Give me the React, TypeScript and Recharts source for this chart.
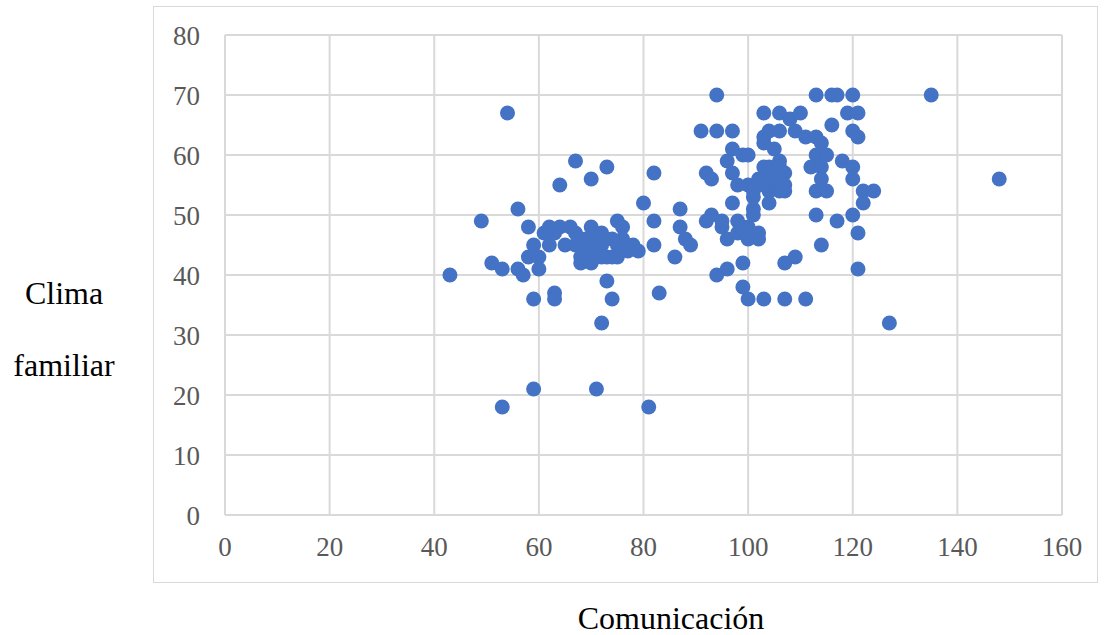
import React from 'react';
import { ScatterChart, Scatter, XAxis, YAxis, CartesianGrid } from 'recharts';

// Comunicación (x) values
const comunicacion = [
  43, 49, 51, 53, 53, 54, 56, 56, 57, 58, 58, 59, 59, 59, 60, 60, 61, 62, 62, 63,
  63, 64, 64, 65, 66, 67, 67, 68, 68, 69, 70, 70, 70, 70, 71, 71, 72, 73, 73, 73,
  74, 75, 75, 75, 76, 76, 78, 79, 80, 81, 82, 82, 82, 83, 86, 87, 87, 88, 89, 91,
  92, 92, 93, 93, 94, 94, 94, 95, 95, 96, 96, 96, 97, 97, 97, 97, 98, 98, 98, 99,
  99, 99, 100, 100, 100, 100, 100, 101, 101, 101, 102, 102, 102, 102, 103, 103, 103, 103, 103, 104,
  104, 104, 104, 105, 105, 105, 106, 106, 106, 106, 107, 107, 107, 107, 107, 108, 109, 109, 110, 111,
  111, 112, 113, 113, 113, 113, 113, 114, 114, 114, 114, 115, 115, 116, 116, 117, 117, 118, 119, 120,
  120, 120, 120, 120, 121, 121, 121, 121, 122, 122, 124, 127, 135, 148,
  72, 72, 74, 77, 63, 67, 69, 68, 70, 74, 72, 103, 104, 105, 104, 101, 106, 103,
];

// Clima familiar (y) values, same order
const clima = [
  40, 49, 42, 41, 18, 67, 51, 41, 40, 43, 48, 36, 21, 45, 41, 43, 47, 45, 48, 37,
  36, 55, 48, 45, 48, 59, 47, 42, 46, 44, 56, 48, 46, 42, 21, 43, 32, 39, 58, 43,
  36, 49, 45, 43, 48, 46, 45, 44, 52, 18, 57, 49, 45, 37, 43, 51, 48, 46, 45, 64,
  57, 49, 56, 50, 70, 64, 40, 48, 49, 59, 41, 46, 64, 61, 57, 52, 55, 49, 47, 42,
  38, 60, 60, 36, 55, 48, 46, 53, 51, 50, 55, 56, 46, 47, 67, 62, 36, 63, 56, 64,
  58, 54, 52, 61, 57, 55, 67, 64, 59, 58, 57, 55, 54, 42, 36, 66, 64, 43, 67, 63,
  36, 58, 70, 63, 60, 54, 50, 62, 58, 56, 45, 60, 54, 70, 65, 70, 49, 59, 67, 70,
  64, 58, 56, 50, 67, 63, 47, 41, 54, 52, 54, 32, 70, 56,
  47, 45, 46, 44, 47, 45, 46, 43, 44, 43, 43, 55, 56, 56, 57, 54, 54, 58,
];

const xTicks = [0, 20, 40, 60, 80, 100, 120, 140, 160];
const yTicks = [0, 10, 20, 30, 40, 50, 60, 70, 80];

const points = comunicacion.map((x, i) => ({ x, y: clima[i] }));

const font = '"Liberation Serif", "Times New Roman", serif';
const tickStyle = { fill: '#595959', fontSize: 27, fontFamily: font };
const labelStyle: React.CSSProperties = {
  position: 'absolute', textAlign: 'center', fontFamily: font, fontSize: 32, color: '#000', lineHeight: '30px',
};

const App: React.FC = () => {
  return (
    <div style={{ position: 'absolute', left: 0, top: 0, width: 1107, height: 635, background: '#fff', overflow: 'hidden' }}>
      {/* chart area border */}
      <div
        style={{
          position: 'absolute', left: 153, top: 6, width: 943, height: 575,
          border: '1.5px solid #d9d9d9',
        }}
      />
      <ScatterChart
        width={1107}
        height={635}
        margin={{ top: 35, right: 45, left: 165, bottom: 90 }}
        style={{ position: 'absolute', left: 0, top: 0 }}
      >
        <CartesianGrid stroke="#d9d9d9" strokeWidth={2} />
        <XAxis
          type="number"
          dataKey="x"
          domain={[0, 160]}
          ticks={xTicks}
          height={30}
          axisLine={false}
          tickLine={false}
          tickSize={0}
          tickMargin={22}
          tick={tickStyle}
          interval={0}
        />
        <YAxis
          type="number"
          dataKey="y"
          domain={[0, 80]}
          ticks={yTicks}
          width={60}
          axisLine={false}
          tickLine={false}
          tickSize={0}
          tickMargin={25}
          tick={tickStyle}
          interval={0}
        />
        <Scatter
          data={points}
          fill="#4472C4"
          isAnimationActive={false}
          shape={(props: any) => <circle cx={props.cx} cy={props.cy} r={7.5} fill="#4472C4" />}
        />
      </ScatterChart>
      <div style={{ ...labelStyle, left: 0, width: 128, top: 278 }}>Clima</div>
      <div style={{ ...labelStyle, left: 0, width: 128, top: 350 }}>familiar</div>
      <div style={{ ...labelStyle, left: 471, width: 400, top: 603 }}>Comunicación</div>
    </div>
  );
};

export default App;
